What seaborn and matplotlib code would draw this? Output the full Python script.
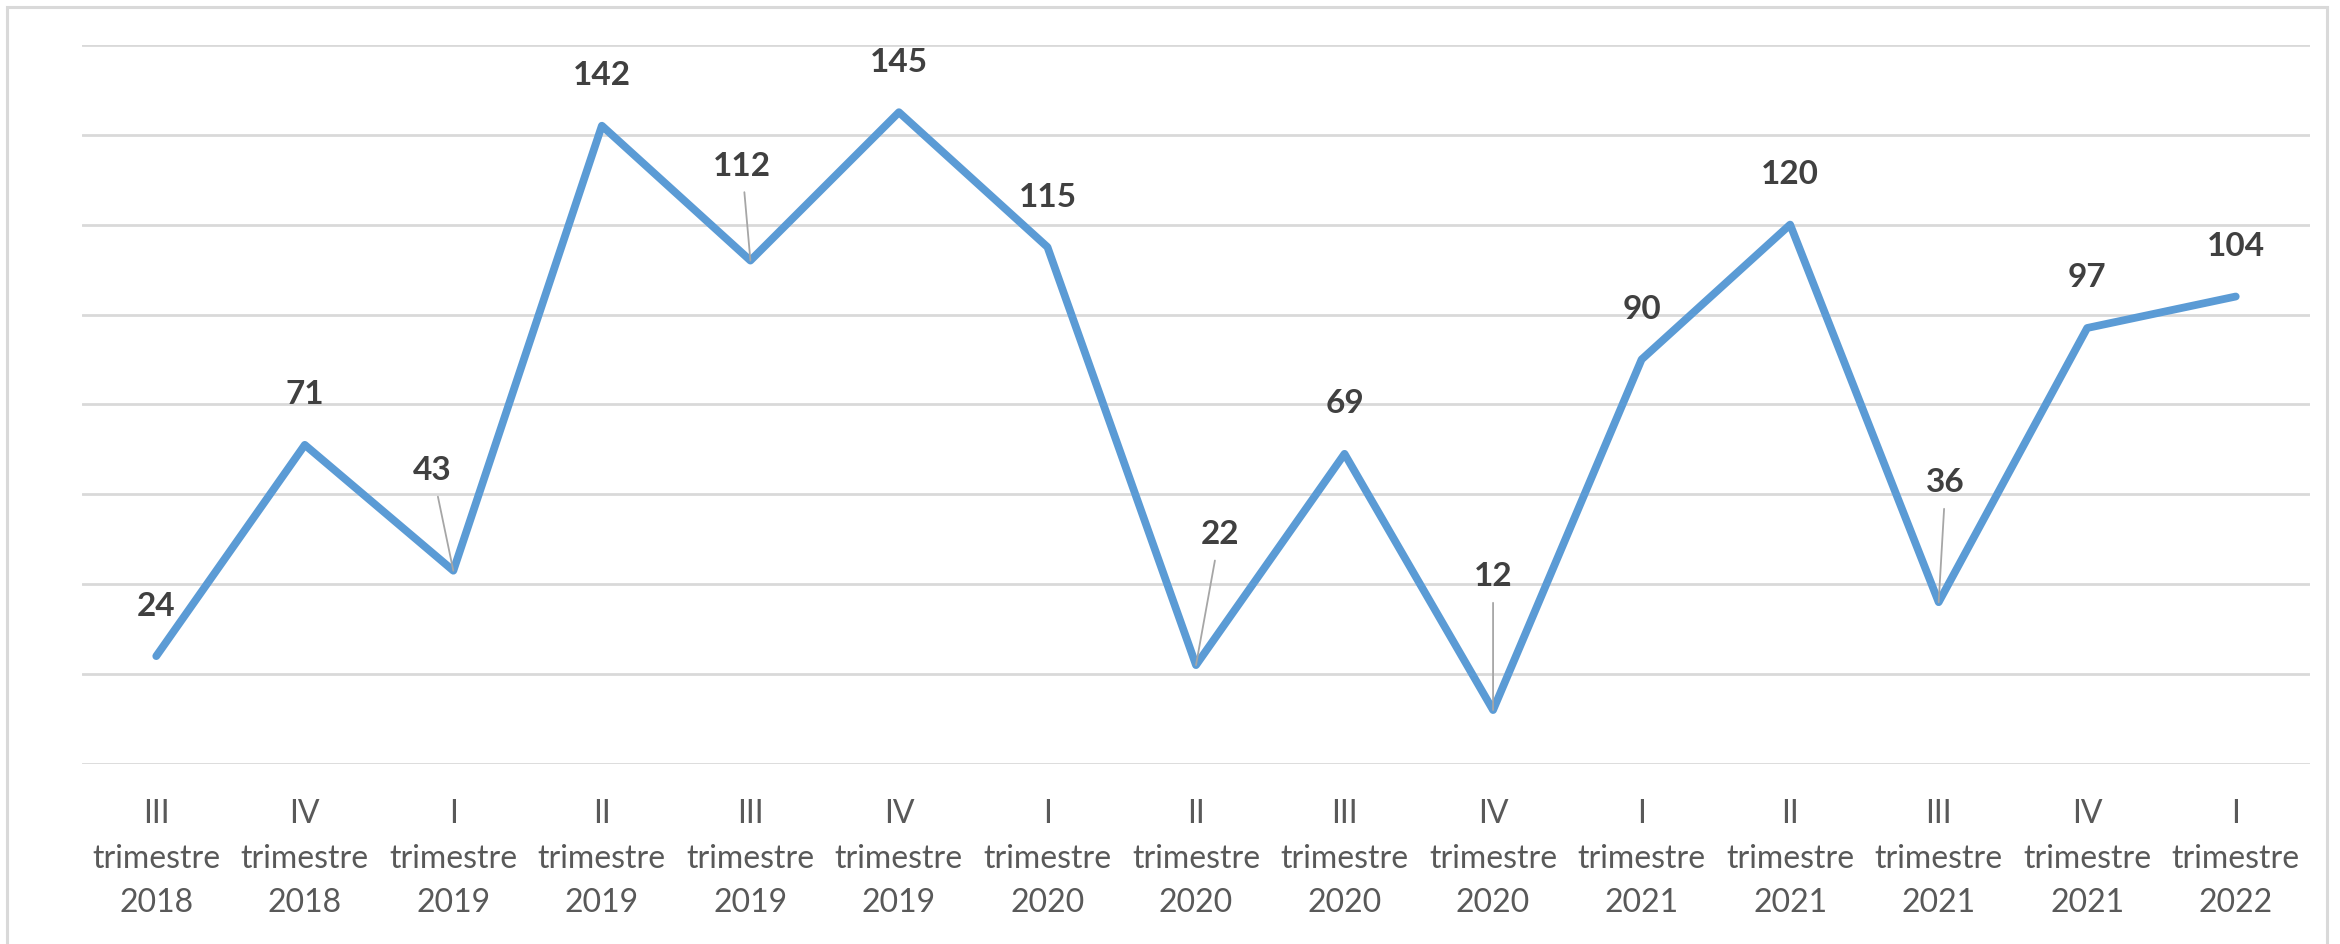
import matplotlib
matplotlib.use("Agg")
import matplotlib.pyplot as plt
import seaborn as sns
import pandas as pd
from matplotlib.patches import Rectangle

# ---- data ----
quarters = ["III", "IV", "I", "II", "III", "IV", "I", "II", "III", "IV", "I", "II", "III", "IV", "I"]
years = ["2018", "2018", "2019", "2019", "2019", "2019", "2020", "2020", "2020", "2020",
         "2021", "2021", "2021", "2021", "2022"]
values = [24, 71, 43, 142, 112, 145, 115, 22, 69, 12, 90, 120, 36, 97, 104]
tick_labels = [f"{q}\ntrimestre\n{y}" for q, y in zip(quarters, years)]

# ---- style ----
LINE_COLOR = "#5B9BD5"
GRID_COLOR = "#D9D9D9"
TICK_COLOR = "#595959"
LABEL_COLOR = "#404040"
LEADER_COLOR = "#A6A6A6"
# label offsets in points for labels moved away with a leader line
leader_offsets = {2: (-15, 72), 4: (-6, 68), 7: (17, 94), 9: (0, 96), 12: (5, 86)}
default_offset = (0, 36)

sns.set_style("white")
plt.rcParams["font.family"] = ["Lato", "DejaVu Sans"]

fig = plt.figure(figsize=(23.4, 9.44), dpi=100)
ax = fig.add_axes([82 / 2340, 1 - 764 / 944, (2310 - 82) / 2340, (764 - 44.8) / 944])

df = pd.DataFrame({"pos": range(len(values)), "value": values})
sns.lineplot(data=df, x="pos", y="value", ax=ax, color=LINE_COLOR, linewidth=5.6,
             sort=False, solid_capstyle="round", solid_joinstyle="round", zorder=3)

ax.set_xlim(-0.5, len(values) - 0.5)
ax.set_ylim(0, 160)
ax.set_yticks(range(0, 161, 20))
ax.yaxis.grid(True, color=GRID_COLOR, linewidth=2.0)
ax.xaxis.grid(False)
ax.set_axisbelow(True)
for s in ax.spines.values():
    s.set_visible(False)
ax.tick_params(axis="y", left=False, labelleft=False)
ax.set_xticks(range(len(values)))
ax.set_xticklabels(tick_labels, fontsize=23, color=TICK_COLOR, linespacing=1.6)
ax.tick_params(axis="x", bottom=False, pad=22)
ax.set_xlabel("")
ax.set_ylabel("")

for i, v in enumerate(values):
    if i in leader_offsets:
        ax.annotate(str(v), xy=(i, v), xytext=leader_offsets[i], textcoords="offset points",
                    ha="center", va="center", fontsize=24, fontweight="bold", color=LABEL_COLOR,
                    arrowprops=dict(arrowstyle="-", color=LEADER_COLOR, lw=1.3,
                                    shrinkA=6, shrinkB=0), zorder=5)
    else:
        ax.annotate(str(v), xy=(i, v), xytext=default_offset, textcoords="offset points",
                    ha="center", va="center", fontsize=24, fontweight="bold", color=LABEL_COLOR,
                    zorder=5)

fig.patches.append(Rectangle((7 / 2340, -0.02), (2327 - 7) / 2340, 1.02 - 7 / 944,
                             transform=fig.transFigure, fill=False,
                             edgecolor=GRID_COLOR, linewidth=2.2))

fig.savefig("out.png", dpi=100, facecolor="white")
